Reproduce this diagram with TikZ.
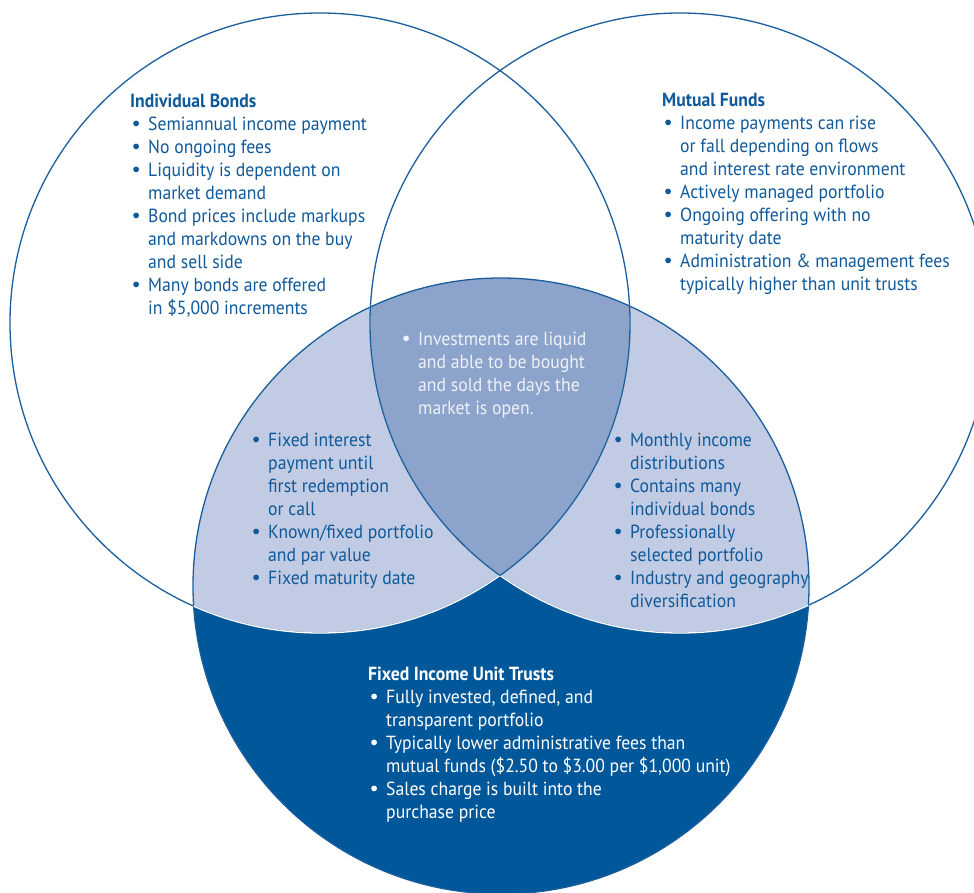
\documentclass[tikz,border=0pt]{standalone}
\usepackage{fontspec}
\setmainfont{PT Sans}[FakeStretch=0.93]
\usetikzlibrary{positioning}

\definecolor{trustblue}{HTML}{00579A}
\definecolor{lenslight}{HTML}{C1CBE3}
\definecolor{lensmid}{HTML}{8CA4CB}
\definecolor{rimblue}{HTML}{1B5E9E}
\definecolor{inkblue}{HTML}{10599A}
\definecolor{paleink}{HTML}{EEF1F7}

\newlength\bulw \setlength\bulw{18pt}
\newcommand\bl{\makebox[\bulw][l]{\hspace{3pt}\tikz[baseline=0pt]\fill (2.9pt,6.6pt) circle (2.9pt);}}
\newcommand\blurbhead[1]{\multicolumn{2}{@{}l@{}}{\bfseries #1}}

\tikzset{
  blurb/.style={anchor=base west, inner sep=0pt, text=inkblue, font=\fontsize{19}{23}\selectfont},
  rim/.style={draw=rimblue, line width=1.3pt},
}

\begin{document}
\begin{tikzpicture}[x=1pt,y=-1pt]
\useasboundingbox (0,0) rectangle (974,892);
\coordinate (bondsC) at (320,323);
\coordinate (fundsC) at (680,323);
\coordinate (trustC) at (501,586);

% unit trust circle and its overlaps
\fill[trustblue] (trustC) circle (308pt);
\begin{scope}
  \clip (trustC) circle (308pt);
  \fill[lenslight] (bondsC) circle (310pt);
  \fill[lenslight] (fundsC) circle (310pt);
  \clip (bondsC) circle (310pt);
  \fill[lensmid] (fundsC) circle (310pt);
\end{scope}

% outlines
\draw[rim] (bondsC) circle (310pt) (fundsC) circle (310pt) (trustC) circle (308pt);
\begin{scope}
  \clip (trustC) circle (308pt);
  \draw[white, line width=1.3pt] (bondsC) circle (310pt) (fundsC) circle (310pt);
  \begin{scope}
    \clip (fundsC) circle (310pt);
    \draw[rim] (bondsC) circle (310pt);
  \end{scope}
  \clip (bondsC) circle (310pt);
  \draw[rim] (fundsC) circle (310pt);
\end{scope}

% texts
\node[blurb] (bondsTxt) at (130,107) {\begin{tabular}[t]{@{}l@{}l@{}}
\blurbhead{Individual Bonds}\\
\bl & Semiannual income payment\\
\bl & No ongoing fees\\
\bl & Liquidity is dependent on\\
    & market demand\\
\bl & Bond prices include markups\\
    & and markdowns on the buy\\
    & and sell side\\
\bl & Many bonds are offered\\
    & in \$5,000 increments
\end{tabular}};

\node[blurb] (fundsTxt) at (662,106) {\begin{tabular}[t]{@{}l@{}l@{}}
\blurbhead{Mutual Funds}\\
\bl & Income payments can rise\\
    & or fall depending on flows\\
    & and interest rate environment\\
\bl & Actively managed portfolio\\
\bl & Ongoing offering with no\\
    & maturity date\\
\bl & Administration \& management fees\\
    & typically higher than unit trusts
\end{tabular}};

\node[blurb, text=paleink] (allTxt) at (400,345) {\begin{tabular}[t]{@{}l@{}l@{}}
\bl & Investments are liquid\\
    & and able to be bought\\
    & and sold the days the\\
    & market is open.
\end{tabular}};

\node[blurb] (bondsTrustTxt) at (250,446) {\begin{tabular}[t]{@{}l@{}l@{}}
\bl & Fixed interest\\
    & payment until\\
    & first redemption\\
    & or call\\
\bl & Known/fixed portfolio\\
    & and par value\\
\bl & Fixed maturity date
\end{tabular}};

\node[blurb] (fundsTrustTxt) at (612,446) {\begin{tabular}[t]{@{}l@{}l@{}}
\bl & Monthly income\\
    & distributions\\
\bl & Contains many\\
    & individual bonds\\
\bl & Professionally\\
    & selected portfolio\\
\bl & Industry and geography\\
    & diversification
\end{tabular}};

\node[blurb, text=white] (trustTxt) at (368,680) {\begin{tabular}[t]{@{}l@{}l@{}}
\blurbhead{Fixed Income Unit Trusts}\\
\bl & Fully invested, defined, and\\
    & transparent portfolio\\
\bl & Typically lower administrative fees than\\
    & mutual funds (\$2.50 to \$3.00 per \$1,000 unit)\\
\bl & Sales charge is built into the\\
    & purchase price
\end{tabular}};
\end{tikzpicture}
\end{document}
